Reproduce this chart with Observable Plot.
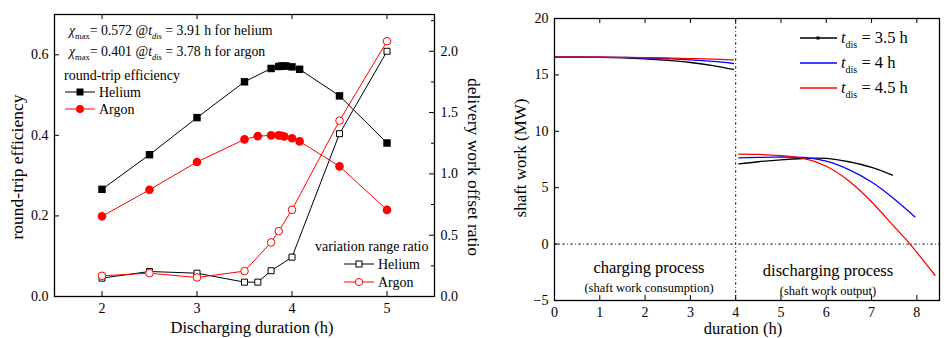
<!DOCTYPE html>
<html><head><meta charset="utf-8">
<script src="https://cdn.jsdelivr.net/npm/d3@7"></script>
<script src="https://cdn.jsdelivr.net/npm/@observablehq/plot@0.6"></script>
<style>
body{margin:0;background:#fff;}
#wrap{display:flex;width:944px;height:338px;overflow:hidden;}
#wrap svg{overflow:visible;}
#wrap svg, #wrap svg text{font-family:'Liberation Serif','Times New Roman',Tinos,'DejaVu Serif',serif;}
</style></head><body><div id="wrap"></div>
<script>
// ---------- Left panel data ----------
const xTicksL = [2, 3, 4, 5];
const yTicksL = [0, 0.2, 0.4, 0.6];
const ratioTicks = [0, 0.5, 1.0, 1.5, 2.0];
const ratioMinor = [0.25, 0.75, 1.25, 1.75, 2.25];

const durHe = [2, 2.5, 3, 3.5, 3.78, 3.86, 3.89, 3.91, 3.94, 4.0, 4.08, 4.5, 5];
const rteHe = [0.266, 0.352, 0.444, 0.533, 0.566, 0.571, 0.572, 0.572, 0.572, 0.570, 0.564, 0.498, 0.381];
const durAr = [2, 2.5, 3, 3.5, 3.64, 3.78, 3.86, 3.89, 3.92, 4.0, 4.08, 4.5, 5];
const rteAr = [0.199, 0.265, 0.334, 0.390, 0.398, 0.400, 0.400, 0.399, 0.397, 0.393, 0.385, 0.323, 0.215];

const durRatioHe = [2, 2.5, 3, 3.5, 3.64, 3.78, 4.0, 4.5, 5];
const ratioHe = [0.150, 0.204, 0.190, 0.117, 0.117, 0.210, 0.321, 1.328, 2.0];
const durRatioAr = [2, 2.5, 3, 3.5, 3.78, 3.86, 4.0, 4.5, 5];
const ratioAr = [0.169, 0.190, 0.155, 0.207, 0.441, 0.533, 0.707, 1.434, 2.082];

// ---------- Right panel data ----------
const xTicksR = [0, 1, 2, 3, 4, 5, 6, 7, 8];
const yTicksR = [-5, 0, 5, 10, 15, 20];
const chgT = [0, 0.5, 1, 1.5, 2, 2.5, 3, 3.5, 3.95];
const chg35 = [16.57, 16.57, 16.56, 16.52, 16.42, 16.28, 16.10, 15.83, 15.48];
const chg4  = [16.57, 16.57, 16.57, 16.55, 16.50, 16.43, 16.33, 16.19, 16.01];
const chg45 = [16.57, 16.57, 16.57, 16.56, 16.54, 16.50, 16.45, 16.40, 16.33];
const dis35T = [4.07, 4.5, 5, 5.5, 6, 6.5, 7, 7.46];
const dis35  = [7.11, 7.30, 7.47, 7.59, 7.60, 7.30, 6.80, 6.11];
const dis4T = [4.07, 4.5, 5, 5.5, 6, 6.5, 7, 7.5, 7.96];
const dis4  = [7.64, 7.68, 7.72, 7.68, 7.35, 6.60, 5.50, 4.00, 2.41];
const dis45T = [4.07, 4.5, 5, 5.5, 6, 6.5, 7, 7.5, 7.85, 8.4];
const dis45  = [7.97, 7.95, 7.85, 7.60, 6.90, 5.60, 3.75, 1.55, 0.0, -2.76];

const FONT = "'Liberation Serif','Times New Roman',Tinos,'DejaVu Serif',serif";
const zip = (xs, ys) => xs.map((t, i) => ({t, v: ys[i]}));

// ---------- Left plot ----------
const WL = 484, HL = 338, mL = {l: 54, r: 50, t: 14, b: 42};
const fwL = WL - mL.l - mL.r, fhL = HL - mL.t - mL.b;
const k = 0.7 / 2.3; // ratio -> efficiency scale factor for the secondary axis

const heRte = zip(durHe, rteHe), arRte = zip(durAr, rteAr);
const heRat = zip(durRatioHe, ratioHe), arRat = zip(durRatioAr, ratioAr);

const left = Plot.plot({
  width: WL, height: HL,
  marginLeft: mL.l, marginRight: mL.r, marginTop: mL.t, marginBottom: mL.b,
  style: {fontFamily: FONT, fontSize: "14px", color: "#000", background: "transparent", overflow: "visible"},
  x: {domain: [1.5, 5.5]},
  y: {domain: [0, 0.7]},
  marks: [
    Plot.axisX(xTicksL, {tickSize: 0, tickPadding: 7, label: null, fontSize: 14}),
    Plot.axisY(yTicksL, {tickSize: 0, tickPadding: 6, label: null, tickFormat: d3.format(".1f"), fontSize: 14}),
    Plot.axisY(ratioTicks.map(d => d * k), {anchor: "right", tickSize: 0, tickPadding: 6, label: null,
      tickFormat: d => (d / k).toFixed(1), fontSize: 14}),
    Plot.ruleX(xTicksL, {insetTop: fhL - 5, stroke: "#000"}),
    Plot.ruleX(xTicksL, {insetBottom: fhL - 5, stroke: "#000"}),
    Plot.ruleY(yTicksL, {insetRight: fwL - 5, stroke: "#000"}),
    Plot.ruleY(ratioTicks.map(d => d * k), {insetLeft: fwL - 5, stroke: "#000"}),
    Plot.ruleY(ratioMinor.map(d => d * k), {insetLeft: fwL - 3, stroke: "#000"}),
    Plot.line(heRat, {x: "t", y: d => d.v * k, stroke: "#000", strokeWidth: 1}),
    Plot.line(arRat, {x: "t", y: d => d.v * k, stroke: "#ff0000", strokeWidth: 1}),
    Plot.line(heRte, {x: "t", y: "v", stroke: "#000", strokeWidth: 1}),
    Plot.line(arRte, {x: "t", y: "v", stroke: "#ff0000", strokeWidth: 1}),
    Plot.dot(heRat, {x: "t", y: d => d.v * k, symbol: "square", r: 3.4, fill: "#fff", stroke: "#000", strokeWidth: 1}),
    Plot.dot(arRat, {x: "t", y: d => d.v * k, symbol: "circle", r: 3.8, fill: "#fff", stroke: "#ff0000", strokeWidth: 1}),
    Plot.dot(heRte, {x: "t", y: "v", symbol: "square", r: 4.2, fill: "#000", stroke: "none"}),
    Plot.dot(arRte, {x: "t", y: "v", symbol: "circle", r: 4.3, fill: "#ff0000", stroke: "none"}),
    Plot.frame({stroke: "#000", strokeWidth: 1.3})
  ]
});

// ---------- Right plot ----------
const WR = 460, HR = 338, mR = {l: 70, r: 5, t: 18, b: 38};
const fwR = WR - mR.l - mR.r, fhR = HR - mR.t - mR.b;

const right = Plot.plot({
  width: WR, height: HR,
  marginLeft: mR.l, marginRight: mR.r, marginTop: mR.t, marginBottom: mR.b,
  style: {fontFamily: FONT, fontSize: "14px", color: "#000", background: "transparent", overflow: "visible"},
  x: {domain: [0, 8.5]},
  y: {domain: [-5, 20]},
  marks: [
    Plot.axisX(xTicksR, {tickSize: 0, tickPadding: 7, label: null, fontSize: 14}),
    Plot.axisY(yTicksR, {tickSize: 0, tickPadding: 6, label: null, fontSize: 14}),
    Plot.ruleX(xTicksR, {insetTop: fhR - 5, stroke: "#000"}),
    Plot.ruleX(xTicksR, {insetBottom: fhR - 5, stroke: "#000"}),
    Plot.ruleY(yTicksR, {insetRight: fwR - 5, stroke: "#000"}),
    Plot.ruleX([4], {stroke: "#000", strokeWidth: 0.8, strokeDasharray: "3,2,1,2"}),
    Plot.ruleY([0], {stroke: "#000", strokeWidth: 0.8, strokeDasharray: "3,2,1,2"}),
    Plot.line(zip(chgT, chg35), {x: "t", y: "v", stroke: "#000", strokeWidth: 1.3, curve: "natural"}),
    Plot.line(zip(chgT, chg4), {x: "t", y: "v", stroke: "#0000ff", strokeWidth: 1.3, curve: "natural"}),
    Plot.line(zip(chgT, chg45), {x: "t", y: "v", stroke: "#ff0000", strokeWidth: 1.3, curve: "natural"}),
    Plot.line(zip(dis35T, dis35), {x: "t", y: "v", stroke: "#000", strokeWidth: 1.3, curve: "natural"}),
    Plot.line(zip(dis4T, dis4), {x: "t", y: "v", stroke: "#0000ff", strokeWidth: 1.3, curve: "natural"}),
    Plot.line(zip(dis45T, dis45), {x: "t", y: "v", stroke: "#ff0000", strokeWidth: 1.3, curve: "natural"}),
    Plot.frame({stroke: "#000", strokeWidth: 1.3})
  ]
});

const wrap = document.getElementById("wrap");
wrap.appendChild(left);
wrap.appendChild(right);

// ---------- annotations ----------
function rich(svg, x, y, parts, opts = {}) {
  const t = d3.select(svg).append("text")
    .attr("x", x).attr("y", y)
    .style("font-family", FONT)
    .attr("font-size", opts.size || 14)
    .attr("text-anchor", opts.anchor || "start")
    .attr("fill", "#000");
  if (opts.rotate) t.attr("transform", `rotate(${opts.rotate},${x},${y})`);
  let shift = 0;
  for (const p of parts) {
    const s = t.append("tspan").text(p.t);
    const target = p.sub ? (p.shift ?? 4) : 0;
    if (target !== shift) { s.attr("dy", target - shift); shift = target; }
    if (p.italic) s.attr("font-style", "italic");
    if (p.size) s.attr("font-size", p.size);
  }
  return t;
}
function seg(svg, x1, x2, y, color, w = 1) {
  d3.select(svg).append("line").attr("x1", x1).attr("x2", x2).attr("y1", y).attr("y2", y)
    .attr("stroke", color).attr("stroke-width", w);
}
function sq(svg, cx, cy, s, fill, stroke) {
  d3.select(svg).append("rect").attr("x", cx - s / 2).attr("y", cy - s / 2).attr("width", s).attr("height", s)
    .attr("fill", fill).attr("stroke", stroke);
}
function circ(svg, cx, cy, r, fill, stroke) {
  d3.select(svg).append("circle").attr("cx", cx).attr("cy", cy).attr("r", r).attr("fill", fill).attr("stroke", stroke);
}

// Left axis titles
rich(left, 23, 167, [{t: "round-trip efficiency"}], {size: 17.5, anchor: "middle", rotate: -90});
rich(left, 468, 167, [{t: "delivery work offset ratio"}], {size: 17.5, anchor: "middle", rotate: 90});
rich(left, 252, 333, [{t: "Discharging duration (h)"}], {size: 16.5, anchor: "middle"});

// Left annotations
rich(left, 69, 35, [{t: "χ", italic: true}, {t: "max", sub: true, size: 8.5}, {t: "= 0.572 @"},
  {t: "t", italic: true}, {t: "dis", sub: true, italic: true, size: 8.5}, {t: " = 3.91 h for helium"}], {size: 13.8});
rich(left, 69, 56, [{t: "χ", italic: true}, {t: "max", sub: true, size: 8.5}, {t: "= 0.401 @"},
  {t: "t", italic: true}, {t: "dis", sub: true, italic: true, size: 8.5}, {t: " = 3.78 h for argon"}], {size: 13.8});
rich(left, 64, 80, [{t: "round-trip efficiency"}], {size: 14});
seg(left, 65, 95, 92, "#000");
sq(left, 80, 92, 7, "#000", "none");
rich(left, 99, 97, [{t: "Helium"}], {size: 14});
seg(left, 65, 95, 109, "#ff0000");
circ(left, 80, 109, 4, "#ff0000", "none");
rich(left, 99, 114, [{t: "Argon"}], {size: 14});

rich(left, 315, 251, [{t: "variation range ratio"}], {size: 14});
seg(left, 344, 374, 264, "#000");
sq(left, 359, 264, 6, "#fff", "#000");
rich(left, 378, 269, [{t: "Helium"}], {size: 14});
seg(left, 344, 374, 282, "#ff0000");
circ(left, 359, 282, 3.6, "#fff", "#ff0000");
rich(left, 378, 287, [{t: "Argon"}], {size: 14});

// Right axis titles (coordinates relative to right svg, offset 484)
const o = 484;
rich(right, 526 - o, 158, [{t: "shaft work (MW)"}], {size: 17, anchor: "middle", rotate: -90});
rich(right, 743 - o, 334, [{t: "duration (h)"}], {size: 16.5, anchor: "middle"});

// Right texts
rich(right, 649 - o, 273, [{t: "charging process"}], {size: 16.5, anchor: "middle"});
rich(right, 649 - o, 292, [{t: "(shaft work consumption)"}], {size: 12.5, anchor: "middle"});
rich(right, 828 - o, 276, [{t: "discharging process"}], {size: 16.5, anchor: "middle"});
rich(right, 828 - o, 295, [{t: "(shaft work output)"}], {size: 12.5, anchor: "middle"});

// Right legend
const legendRows = [
  {y: 38, color: "#000", label: " = 3.5 h", marker: true},
  {y: 63, color: "#0000ff", label: " = 4 h"},
  {y: 88, color: "#ff0000", label: " = 4.5 h"}
];
for (const r of legendRows) {
  seg(right, 800 - o, 837 - o, r.y, r.color, 1.3);
  if (r.marker) sq(right, 818 - o, r.y, 3, "#000", "none");
  rich(right, 841 - o, r.y + 5, [{t: "t", italic: true}, {t: "dis", sub: true, size: 10, shift: 5}, {t: r.label}], {size: 16.5});
}
</script></body></html>
